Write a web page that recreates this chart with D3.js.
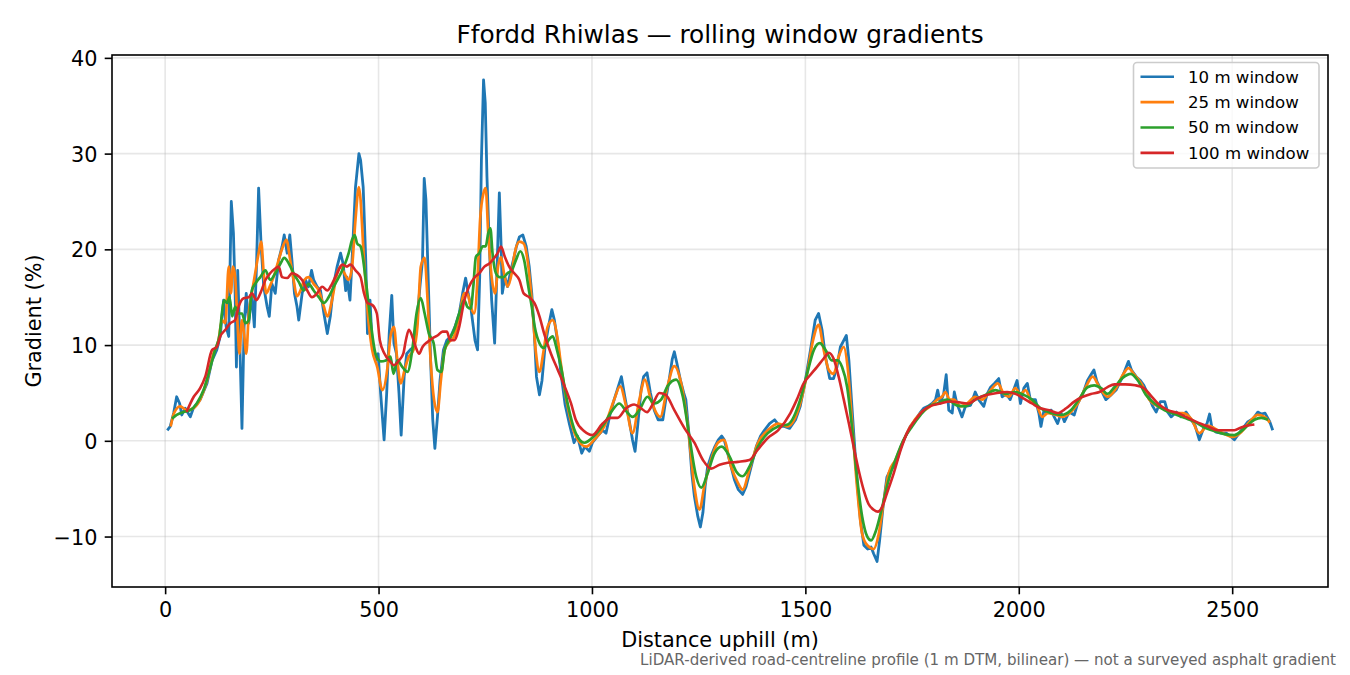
<!DOCTYPE html>
<html lang="en">
<head>
<meta charset="utf-8">
<title>Ffordd Rhiwlas gradients</title>
<script src="https://d3js.org/d3.v7.min.js"></script>
<style>
  body { margin: 0; background: #fff; }
  text { font-family: "DejaVu Sans", sans-serif; fill: #000; }
</style>
</head>
<body>
<script>
// [distance uphill (m), gradient (%)]
const win10 = [[5,1.1],[12,1.5],[20,2.9],[27,4.6],[34,3.9],[39,2.7],[47,3.4],[59,2.5],[66,3.4],[82,4.3],[98,6],[110,8.4],[121,9.5],[129,10.9],[137,14.7],[143,11.9],[149,10.9],[155,25],[160,21.7],[164,15.4],[167,7.7],[170,17.8],[174,11.9],[180,1.3],[185,11.9],[190,15.4],[196,12.3],[203,15.4],[209,11.9],[214,18.2],[219,26.4],[225,20.3],[231,16.1],[239,14],[244,13],[250,16.4],[258,15.4],[266,18.9],[274,20.3],[279,21.5],[286,19.6],[292,21.5],[297,18.9],[303,15.4],[309,14],[313,12.6],[321,15.4],[329,16.8],[336,16.1],[343,17.8],[348,16.8],[356,16.1],[364,15.7],[372,13.3],[380,11.2],[387,13],[395,16.4],[403,18.2],[411,19.6],[417,18.5],[423,15.7],[426,17.1],[433,14.7],[438,18.9],[446,26.5],[454,30],[458,29.3],[464,26.5],[470,18.9],[474,11.2],[480,14.7],[485,10.2],[493,8.4],[499,9.1],[505,4.9],[513,0.1],[519,4.9],[525,11.2],[531,15.2],[536,10.2],[542,9.1],[548,4.9],[553,0.6],[560,6.7],[566,9.1],[574,9.5],[582,9.8],[589,11.9],[597,16.1],[603,18.9],[607,27.4],[611,25.2],[616,17.5],[622,8.4],[627,2.2],[632,-0.8],[638,2.5],[644,6.3],[652,9.5],[660,10.5],[669,10.9],[679,11.9],[689,13.3],[697,15.4],[704,17],[710,15.4],[716,14],[722,11.9],[726,10.5],[732,9.5],[737,17.1],[741,29.3],[746,37.7],[750,35.3],[754,27.6],[759,21],[765,14.7],[772,10.2],[777,17.1],[783,25.9],[787,20.6],[790,15.4],[796,17.1],[802,16.1],[810,17.8],[816,18.9],[823,20.3],[830,21.3],[838,21.5],[846,20.3],[853,18.2],[859,15.4],[865,11.2],[870,6.7],[877,4.8],[883,6.3],[890,9.8],[898,11.9],[906,13.7],[912,12.6],[920,10.2],[927,7.2],[937,3.8],[947,1.8],[958,-0.2],[966,0.5],[976,-1.3],[983,-0.6],[994,-1.1],[1001,-0.2],[1013,0.5],[1025,1.1],[1033,0.8],[1043,2.9],[1052,4.3],[1062,5.7],[1069,6.7],[1077,4.6],[1087,2.2],[1095,0.1],[1101,-1.1],[1107,1.5],[1115,5.3],[1121,6.7],[1129,7.1],[1137,5],[1146,3.2],[1155,2.2],[1166,2.2],[1173,4.3],[1181,6.4],[1188,8.5],[1193,9.3],[1199,8.1],[1207,6.4],[1215,5],[1220,4.3],[1227,0.8],[1234,-3.4],[1240,-5.8],[1248,-7.9],[1254,-9],[1260,-7.5],[1265,-4.8],[1271,-2.7],[1279,-1.6],[1288,-0.6],[1296,0.1],[1304,0.5],[1310,0.1],[1318,-1.3],[1326,-2.7],[1334,-4.1],[1343,-5.1],[1353,-5.6],[1361,-4.8],[1369,-3.4],[1377,-2],[1385,-0.6],[1395,0.5],[1404,1.1],[1416,1.8],[1428,2.2],[1440,1.5],[1451,1.5],[1463,1.3],[1477,2.2],[1488,3.6],[1500,6.3],[1512,9.5],[1523,12.6],[1531,13.3],[1539,11.6],[1547,8.8],[1557,6.5],[1566,6.5],[1574,7.7],[1582,9.8],[1590,10.5],[1596,11],[1602,8.4],[1608,4.3],[1615,-0.3],[1621,-4.1],[1629,-8.3],[1637,-10.9],[1646,-11.3],[1654,-11.1],[1660,-11.8],[1668,-12.6],[1674,-10.4],[1682,-6.9],[1691,-3.8],[1699,-3.1],[1707,-2.7],[1715,-2],[1724,-0.6],[1734,0.4],[1746,1.5],[1758,2.2],[1770,3],[1777,3.4],[1787,3.6],[1797,3.9],[1805,4.3],[1810,5.3],[1816,3.9],[1824,4.9],[1830,6.9],[1836,3.2],[1844,2.9],[1849,5.1],[1855,3.9],[1867,2.5],[1875,3.6],[1887,3.7],[1898,5.1],[1906,4.3],[1918,3.6],[1926,4.9],[1934,5.6],[1943,6],[1953,6.5],[1961,4.6],[1971,4.9],[1980,4.3],[1988,5.3],[1996,6.3],[2004,3.9],[2012,5.5],[2020,6],[2027,4.3],[2039,4.3],[2047,2.9],[2052,1.5],[2059,3.2],[2064,3],[2076,3.2],[2083,2.5],[2091,1.8],[2099,2.9],[2107,2],[2118,3],[2130,2.7],[2138,3.9],[2150,4.9],[2161,6.3],[2169,6.9],[2176,7.4],[2183,6.2],[2193,5.3],[2204,4.3],[2216,4.8],[2228,5.3],[2239,6.3],[2249,7.4],[2257,8.3],[2264,7.4],[2275,6.7],[2285,6.3],[2293,5.8],[2302,4.9],[2314,3.6],[2322,3],[2332,4.1],[2342,4.1],[2349,3],[2357,2.5],[2369,3],[2380,2.5],[2392,3],[2404,2.2],[2413,1.6],[2423,0.1],[2433,1.3],[2441,1.8],[2447,2.8],[2452,1.5],[2462,0.9],[2474,0.8],[2486,0.8],[2498,0.4],[2505,0.1],[2513,0.6],[2525,1.3],[2537,2],[2549,2.3],[2560,3],[2568,2.8],[2577,2.9],[2588,2],[2595,1.1]];

const win25 = [[13,1.5],[21,2.9],[35,3.6],[51,3.2],[66,3.4],[82,4.3],[98,6.3],[113,9.1],[125,10.5],[133,12.6],[141,12.3],[149,18.2],[154,15.4],[159,18.2],[164,17.1],[170,11.9],[174,9.1],[180,12.6],[185,11.2],[190,9.1],[196,13.3],[203,15.4],[211,17.5],[219,19.6],[225,20.8],[231,17.5],[237,15.4],[245,16.1],[254,17.1],[266,18.9],[276,20.3],[284,21],[293,18.9],[301,16.8],[309,15.1],[317,15.7],[326,16.8],[336,17.1],[348,16.4],[360,15.7],[372,14],[380,13],[391,14.7],[403,17.5],[411,18.2],[420,17.5],[430,16.8],[438,18.2],[446,23.1],[454,26.5],[466,18.9],[474,13.7],[485,9.5],[497,7.7],[509,5.3],[521,7.7],[528,10.9],[536,11.9],[544,8.4],[552,6],[561,7.4],[571,8.8],[582,9.5],[591,11.9],[599,18.2],[608,19.1],[614,15.4],[622,8.4],[630,4.3],[638,3],[646,6.3],[655,9.5],[665,10.3],[677,10.9],[689,13],[701,15.4],[708,15.4],[716,14],[724,13.3],[732,17.1],[738,23.1],[746,25.9],[751,26.4],[757,21.7],[765,17.1],[773,15.4],[780,18.2],[787,19.2],[794,17.5],[802,16.1],[812,17.5],[819,19.6],[830,20.8],[840,20.6],[849,18.9],[859,14.7],[869,9.1],[877,7.2],[887,9.5],[896,11.9],[908,12.6],[920,10.5],[927,8.1],[943,3.6],[962,0.5],[986,-0.6],[1005,0.1],[1029,1.5],[1052,4.3],[1066,5.7],[1080,3.6],[1095,0.8],[1111,4.3],[1124,6.4],[1138,4.3],[1160,2.5],[1177,5.7],[1193,7.8],[1209,6],[1224,1.8],[1240,-4.8],[1252,-7.2],[1263,-4.8],[1279,-2],[1295,-0.2],[1309,0.1],[1326,-2.7],[1342,-4.4],[1353,-5.1],[1369,-3],[1389,-0.2],[1412,1.1],[1436,1.8],[1459,1.5],[1488,3.9],[1504,7],[1518,10.5],[1531,12.1],[1543,9.5],[1555,7.4],[1566,7],[1578,8.8],[1590,9.8],[1599,7.7],[1609,2.2],[1621,-4.8],[1633,-9.7],[1645,-10.9],[1660,-11.3],[1672,-9.7],[1684,-6.2],[1695,-3.4],[1711,-2],[1727,-0.3],[1746,1.5],[1770,2.9],[1793,3.6],[1809,4.3],[1820,4.6],[1828,5.1],[1838,4.3],[1848,4.3],[1863,3.6],[1879,3.9],[1898,4.6],[1914,4.3],[1934,5.3],[1951,6],[1965,4.9],[1977,4.6],[1992,5.5],[2004,4.9],[2016,5.3],[2027,4.3],[2043,3.6],[2055,2.5],[2068,2.9],[2087,2.7],[2103,2.5],[2122,3],[2138,3.9],[2157,5.6],[2173,6.7],[2189,5.6],[2208,4.6],[2228,5.5],[2244,6.9],[2257,7.6],[2271,6.9],[2287,6],[2306,4.3],[2326,3.6],[2346,3.2],[2365,2.9],[2385,2.9],[2404,2.3],[2423,0.8],[2443,1.6],[2459,1.3],[2478,0.8],[2502,0.4],[2521,0.9],[2541,2],[2560,2.7],[2576,2.5],[2588,1.9]];

const win50 = [[16,2.3],[27,2.7],[43,3],[59,3.2],[74,3.9],[90,5.3],[106,7.7],[117,9.5],[128,11.2],[133,13.3],[138,14.7],[145,14.4],[151,15],[157,13],[164,14],[172,13.3],[180,13.3],[188,12.3],[196,12.6],[203,15.7],[211,16.4],[223,17.1],[235,17.8],[246,16.8],[258,17.5],[270,18.5],[279,19.1],[290,18.5],[301,17.5],[313,16.6],[325,15.7],[336,16.4],[348,15.7],[360,15],[372,14.4],[383,15],[395,16.1],[407,17.1],[419,18.2],[430,19.6],[438,21],[444,21.5],[450,20.6],[458,20.3],[470,16.8],[481,12.6],[493,9.1],[505,8.3],[517,8.4],[528,8.8],[535,7],[544,8.4],[556,7.7],[568,7.2],[579,9.5],[589,13.3],[599,14.9],[608,13.3],[618,11.2],[629,10.2],[638,7.4],[647,7.2],[655,9.5],[665,10.5],[677,11.6],[689,13.3],[701,14.7],[708,14],[716,13.8],[722,16.1],[728,19.2],[736,19.6],[744,20.3],[751,20.3],[757,21.7],[762,22.2],[767,19.6],[775,17.5],[783,17.1],[793,17.1],[802,17.5],[812,17.8],[822,18.9],[832,19.8],[841,18.9],[851,16.1],[859,14],[866,11.9],[877,10.2],[887,9.7],[898,10.5],[908,10.9],[918,9.5],[927,7.8],[943,3.9],[962,0.8],[982,-0.2],[1005,0.5],[1029,1.8],[1048,3.2],[1064,3.9],[1080,3.1],[1095,2.5],[1111,3.2],[1130,4.6],[1146,3.9],[1162,4.3],[1177,5.7],[1197,6.4],[1213,4.6],[1228,0.5],[1244,-3.7],[1256,-4.9],[1271,-3.4],[1287,-1.3],[1304,-0.6],[1322,-1.6],[1338,-3.2],[1353,-3.7],[1369,-2.7],[1389,-0.6],[1412,0.8],[1436,1.5],[1459,1.7],[1488,4.3],[1504,7],[1520,9.5],[1534,10.2],[1547,9.5],[1562,8.4],[1576,8.4],[1586,7.7],[1598,5.6],[1609,1.5],[1621,-3.8],[1633,-7.9],[1645,-10],[1654,-10.4],[1666,-9.3],[1680,-6.9],[1695,-4.1],[1711,-2],[1730,0.1],[1750,1.5],[1770,2.7],[1789,3.6],[1809,3.9],[1832,4.3],[1855,3.7],[1875,3.6],[1898,4.3],[1922,4.8],[1945,5.3],[1969,4.9],[1992,5.1],[2012,4.8],[2031,4.3],[2051,3.4],[2076,2.9],[2099,2.7],[2122,3.2],[2142,4.4],[2161,5.6],[2177,5.8],[2193,5.5],[2208,4.9],[2224,5.6],[2244,6.6],[2262,7],[2279,6.3],[2298,4.8],[2318,3.9],[2342,3.2],[2365,2.8],[2388,2.4],[2412,2],[2435,1.4],[2459,1],[2482,0.7],[2505,0.6],[2529,1.3],[2552,2.2],[2568,2.4],[2584,2.2]];

const win100 = [[50,3],[67,4.6],[82,5.5],[94,6.7],[110,9.5],[121,9.8],[129,10.9],[141,11.6],[153,12.3],[164,12.6],[172,14],[184,14.9],[196,15],[203,15.4],[214,14.7],[223,15.4],[235,16.8],[246,17.5],[258,18],[266,18.2],[274,17.1],[286,17],[297,17.5],[309,17.3],[321,16.8],[333,15.7],[344,15],[356,15.4],[368,16.1],[380,15.7],[391,16.4],[403,17.5],[415,18.4],[426,18.2],[434,18.4],[446,17.8],[458,17.1],[466,15.4],[474,14.4],[485,14.2],[496,13.3],[503,10.5],[514,9.1],[527,8.3],[536,7.9],[548,8.4],[558,9.1],[564,10.5],[571,11.6],[579,10.9],[587,9.8],[595,9.1],[603,9.8],[614,10.3],[626,10.7],[638,11],[650,11.4],[660,11.4],[668,10.5],[677,10.5],[689,11.9],[701,14.7],[712,16.1],[724,17],[736,17.5],[748,18.2],[759,18.5],[771,19.1],[779,19.6],[787,20.3],[796,19.2],[806,18.2],[818,17.5],[830,16.8],[840,15.4],[853,15],[865,14.4],[877,13],[888,11.2],[904,9.1],[920,7.4],[935,5.8],[951,3.9],[962,2.2],[982,1],[1001,0.6],[1025,1.8],[1044,2.4],[1060,2.4],[1080,3.4],[1099,3.8],[1115,3.4],[1129,3],[1142,3.8],[1158,5],[1173,4.8],[1193,3.2],[1217,1.3],[1240,-0.2],[1260,-2],[1279,-2.9],[1299,-2.5],[1318,-2.3],[1342,-2.2],[1369,-2],[1389,-0.9],[1412,0.3],[1436,1.1],[1465,2.9],[1480,4.3],[1496,6],[1512,6.9],[1527,7.7],[1543,8.6],[1555,9.2],[1566,8.6],[1578,6.7],[1590,4.3],[1602,1.8],[1613,-0.6],[1625,-3.1],[1637,-5.2],[1648,-6.6],[1660,-7.2],[1670,-7.4],[1680,-6.9],[1691,-5.5],[1707,-3.4],[1723,-1],[1738,0.8],[1758,2.2],[1777,3.2],[1797,3.7],[1816,3.9],[1840,4.1],[1863,4],[1883,3.9],[1902,4.4],[1926,4.8],[1949,5],[1973,5.1],[1992,4.9],[2012,4.4],[2031,3.9],[2051,3.4],[2072,3.2],[2091,2.9],[2111,3.4],[2130,4.1],[2150,4.6],[2169,4.9],[2189,5.1],[2208,5.6],[2224,5.9],[2249,5.9],[2273,5.8],[2293,5.5],[2308,4.8],[2326,3.9],[2349,3.2],[2373,2.9],[2396,2.4],[2420,1.9],[2443,1.5],[2466,1.1],[2486,1.1],[2505,1.1],[2521,1.4],[2537,1.6],[2552,1.7]];

const seriesLabels = ["10 m window", "25 m window", "50 m window", "100 m window"];
const seriesColors = ["#1f77b4", "#ff7f0e", "#2ca02c", "#d62728"];
const xTicks = [0, 500, 1000, 1500, 2000, 2500];
const yTicks = [-10, 0, 10, 20, 30, 40];

const W = 1350, H = 675;
const m = {left: 112, right: 22, top: 55, bottom: 88};
const iw = W - m.left - m.right, ih = H - m.top - m.bottom;

const svg = d3.select("body").append("svg")
    .attr("width", W).attr("height", H);

const x = d3.scaleLinear().domain([-124.5, 2724.5]).range([m.left, m.left + iw]);
const y = d3.scaleLinear().domain([-15.27, 40.3]).range([m.top + ih, m.top]);

// grid
const grid = svg.append("g").attr("stroke", "#b0b0b0").attr("stroke-opacity", 0.3).attr("stroke-width", 1.6);
grid.selectAll(".gx").data(xTicks).join("line")
    .attr("x1", d => x(d)).attr("x2", d => x(d))
    .attr("y1", m.top).attr("y2", m.top + ih);
grid.selectAll(".gy").data(yTicks).join("line")
    .attr("y1", d => y(d)).attr("y2", d => y(d))
    .attr("x1", m.left).attr("x2", m.left + iw);

// lines
const all = [win10, win25, win50, win100];
const curves = [d3.curveLinear, d3.curveMonotoneX, d3.curveMonotoneX, d3.curveMonotoneX];
const widths = [2.8, 2.7, 2.7, 2.6];
all.forEach((s, i) => {
    const line = d3.line().x(d => x(d[0])).y(d => y(d[1])).curve(curves[i]);
    svg.append("path").datum(s)
        .attr("fill", "none")
        .attr("stroke", seriesColors[i])
        .attr("stroke-width", widths[i])
        .attr("stroke-linejoin", "round")
        .attr("d", line);
});

// axes
const xAxis = d3.axisBottom(x).tickValues(xTicks).tickSize(7.3).tickPadding(7.3).tickFormat(d3.format("d"));
const yAxis = d3.axisLeft(y).tickValues(yTicks).tickSize(7.3).tickPadding(7.3).tickFormat(d3.format("d"));

const gx = svg.append("g").attr("transform", `translate(0,${m.top + ih})`).call(xAxis);
const gy = svg.append("g").attr("transform", `translate(${m.left},0)`).call(yAxis);
[gx, gy].forEach(g => {
    g.select(".domain").remove();
    g.selectAll(".tick line").attr("stroke", "#000").attr("stroke-width", 1.6);
    g.selectAll(".tick text").attr("font-family", "DejaVu Sans").attr("font-size", 20.8).attr("fill", "#000");
});
gx.selectAll(".tick text").attr("dy", "0.74em");
gy.selectAll(".tick text").attr("dy", "0.36em");

svg.append("rect")
    .attr("x", m.left).attr("y", m.top).attr("width", iw).attr("height", ih)
    .attr("fill", "none").attr("stroke", "#000").attr("stroke-width", 1.6);

// titles
svg.append("text").attr("x", m.left + iw / 2).attr("y", 42.5)
    .attr("text-anchor", "middle").attr("font-size", 24.8)
    .text("Ffordd Rhiwlas — rolling window gradients");
svg.append("text").attr("x", m.left + iw / 2).attr("y", 647)
    .attr("text-anchor", "middle").attr("font-size", 20.8)
    .text("Distance uphill (m)");
svg.append("text").attr("transform", `translate(40.5,${m.top + ih / 2}) rotate(-90)`)
    .attr("text-anchor", "middle").attr("font-size", 20.8)
    .text("Gradient (%)");
svg.append("text").attr("x", 1336).attr("y", 665)
    .attr("text-anchor", "end").attr("font-size", 15.1).style("fill", "#666")
    .text("LiDAR-derived road-centreline profile (1 m DTM, bilinear) — not a surveyed asphalt gradient");

// legend
const lg = svg.append("g");
lg.append("rect").attr("x", 1133.5).attr("y", 62.5).attr("width", 185.5).attr("height", 105.5)
    .attr("rx", 3.5).attr("fill", "#fff").attr("fill-opacity", 0.8)
    .attr("stroke", "#cccccc").attr("stroke-width", 1.6);
seriesLabels.forEach((lab, i) => {
    const cy = 76.7 + i * 25.4;
    lg.append("line").attr("x1", 1140.5).attr("x2", 1174).attr("y1", cy).attr("y2", cy)
        .attr("stroke", seriesColors[i]).attr("stroke-width", 2.6);
    lg.append("text").attr("x", 1188).attr("y", cy).attr("dy", "0.36em")
        .attr("font-size", 16.6).text(lab);
});
</script>
</body>
</html>
